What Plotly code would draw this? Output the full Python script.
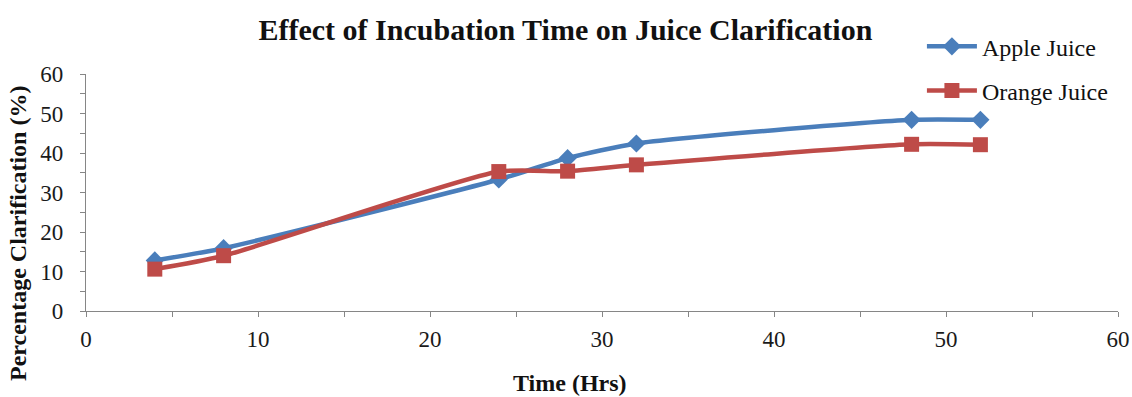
import plotly.graph_objects as go

time_hrs = [4, 8, 24, 28, 32, 48, 52]
apple_juice = [12.8, 15.9, 33.3, 38.7, 42.4, 48.4, 48.4]
orange_juice = [10.6, 14.0, 35.3, 35.4, 37.0, 42.2, 42.1]

serif = "Liberation Serif, Times New Roman, serif"
blue = "#4A7EBB"
red = "#BE4B48"

fig = go.Figure()
fig.add_trace(go.Scatter(
    x=time_hrs, y=apple_juice, name="Apple Juice", mode="lines+markers",
    line=dict(color=blue, width=4.5, shape="spline", smoothing=0.6),
    marker=dict(symbol="diamond", size=14, color=blue),
    legendgroup="a"))
fig.add_trace(go.Scatter(
    x=time_hrs, y=orange_juice, name="Orange Juice", mode="lines+markers",
    line=dict(color=red, width=4.5, shape="spline", smoothing=0.6),
    marker=dict(symbol="square", size=15, color=red),
    legendgroup="b"))

axis_common = dict(
    showgrid=False, zeroline=False, showline=True, linecolor="#868686", linewidth=1.3,
    ticks="outside", ticklen=5, tickcolor="#868686",
    tickfont=dict(family=serif, size=23, color="#1a1a1a"),
    automargin=False,
)

fig.update_layout(
    width=1132, height=397,
    margin=dict(l=86, r=14, t=74, b=86, autoexpand=False),
    paper_bgcolor="white", plot_bgcolor="white",
    title=dict(text="<b>Effect of Incubation Time on Juice Clarification</b>",
               font=dict(family=serif, size=30, color="#111"),
               x=0.4995, xanchor="center", y=0.925, yanchor="middle"),
    xaxis=dict(range=[0, 60], dtick=10, tick0=0, ticklabelstandoff=2,
               minor=dict(dtick=5, ticks="outside", ticklen=5, tickcolor="#868686"),
               **axis_common),
    yaxis=dict(range=[0, 60], dtick=10, tick0=0, ticklabelstandoff=12,
               minor=dict(dtick=5, ticks="outside", ticklen=5, tickcolor="#868686"),
               **axis_common),
    legend=dict(x=0.81, y=1.21, xanchor="left", yanchor="top",
                font=dict(family=serif, size=24, color="#111"),
                bgcolor="rgba(0,0,0,0)", tracegroupgap=10, itemwidth=50),
    annotations=[
        dict(text="<b>Percentage Clarification (%)</b>", textangle=-90,
             x=-(86 - 18) / 1032, xref="paper", xanchor="center",
             y=(311 - 234) / 237, yref="paper", yanchor="middle",
             showarrow=False, font=dict(family=serif, size=24, color="#111")),
        dict(text="<b>Time (Hrs)</b>",
             x=(570 - 86) / 1032, xref="paper", xanchor="center",
             y=-(383 - 311) / 237, yref="paper", yanchor="middle",
             showarrow=False, font=dict(family=serif, size=24, color="#111")),
    ],
)

fig.write_html("out.html")
